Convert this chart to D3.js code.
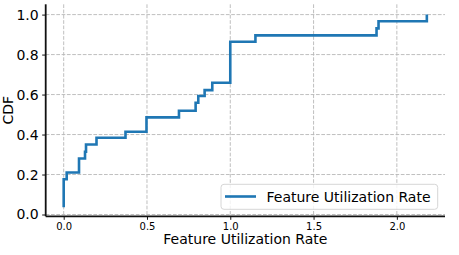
<!DOCTYPE html>
<html><head><meta charset="utf-8">
<script src="https://cdn.jsdelivr.net/npm/d3@7"></script>
<style>body{margin:0;background:#fff}svg{display:block}text{font-family:"DejaVu Sans",sans-serif;fill:#000}</style>
</head><body>
<svg id="c" width="459" height="255"></svg>
<script>
const xValues = [0, 0, 0.018, 0.092, 0.128, 0.134, 0.197, 0.371, 0.497, 0.692, 0.792, 0.808, 0.846, 0.892, 1.0, 1.151, 1.878, 1.89, 2.18];
const cdfValues = [0.036, 0.176, 0.21, 0.28, 0.314, 0.35, 0.384, 0.414, 0.486, 0.519, 0.559, 0.593, 0.622, 0.659, 0.864, 0.896, 0.931, 0.967, 1.0];
const xTicks = [0, 0.5, 1.0, 1.5, 2.0];
const yTicks = [0, 0.2, 0.4, 0.6, 0.8, 1.0];
const seriesName = "Feature Utilization Rate";
const xLabel = "Feature Utilization Rate";
const yLabel = "CDF";

const svg = d3.select("#c");
const L = 45.7, R = 445, T = 4.3, B = 216.3;
const x = d3.scaleLinear().domain([-0.108, 2.289]).range([L, R]);
const y = d3.scaleLinear().domain([-0.009, 1.0515]).range([B, T]);

// grid
const grid = svg.append("g").attr("stroke", "#b8b8b8").attr("stroke-width", 0.9).attr("stroke-dasharray", "3.7,1.6");
grid.selectAll("line.v").data(xTicks).join("line").attr("class","v")
  .attr("x1", d => x(d)).attr("x2", d => x(d)).attr("y1", T).attr("y2", B);
grid.selectAll("line.h").data(yTicks).join("line").attr("class","h")
  .attr("x1", L).attr("x2", R).attr("y1", d => y(d)).attr("y2", d => y(d));

// line
const pts = xValues.map((v, i) => [v, cdfValues[i]]);
svg.append("path").datum(pts)
  .attr("fill", "none").attr("stroke", "#1f77b4").attr("stroke-width", 2.6)
  .attr("d", d3.line().x(d => x(d[0])).y(d => y(d[1])).curve(d3.curveStepAfter));

// axes
const xAxis = svg.append("g").attr("transform", `translate(0,${B})`)
  .call(d3.axisBottom(x).tickValues(xTicks).tickFormat(d3.format(".1f")).tickSize(3.5).tickPadding(3.5));
xAxis.selectAll("text").attr("font-size", 10).attr("font-family", "DejaVu Sans");
const yAxis = svg.append("g").attr("transform", `translate(${L},0)`)
  .call(d3.axisLeft(y).tickValues(yTicks).tickFormat(d3.format(".1f")).tickSize(3.5).tickPadding(3.5));
yAxis.selectAll("text").attr("font-size", 14).attr("font-family", "DejaVu Sans");
[xAxis, yAxis].forEach(a => {
  a.select(".domain").attr("stroke", "#111").attr("stroke-width", 1.8);
  a.selectAll(".tick line").attr("stroke", "#111").attr("stroke-width", 1);
});
xAxis.select(".domain").attr("d", `M${L},0H${R}`);
yAxis.select(".domain").attr("d", `M0,${B}V${T}`);

// labels
svg.append("text").attr("x", (L + R) / 2).attr("y", 244).attr("text-anchor", "middle")
  .attr("font-size", 14).text(xLabel);
svg.append("text").attr("transform", `translate(12.5,${(T + B) / 2}) rotate(-90)`).attr("text-anchor", "middle")
  .attr("font-size", 14).text(yLabel);

// legend
const lg = svg.append("g");
lg.append("rect").attr("x", 221).attr("y", 184.3).attr("width", 216.7).attr("height", 25)
  .attr("rx", 3).attr("fill", "#fff").attr("fill-opacity", 0.8).attr("stroke", "#d6d6d6").attr("stroke-width", 1);
lg.append("line").attr("x1", 225).attr("x2", 256).attr("y1", 196.5).attr("y2", 196.5)
  .attr("stroke", "#1f77b4").attr("stroke-width", 2.6);
lg.append("text").attr("x", 266.5).attr("y", 201.6).attr("font-size", 14).text(seriesName);
</script>
</body></html>
